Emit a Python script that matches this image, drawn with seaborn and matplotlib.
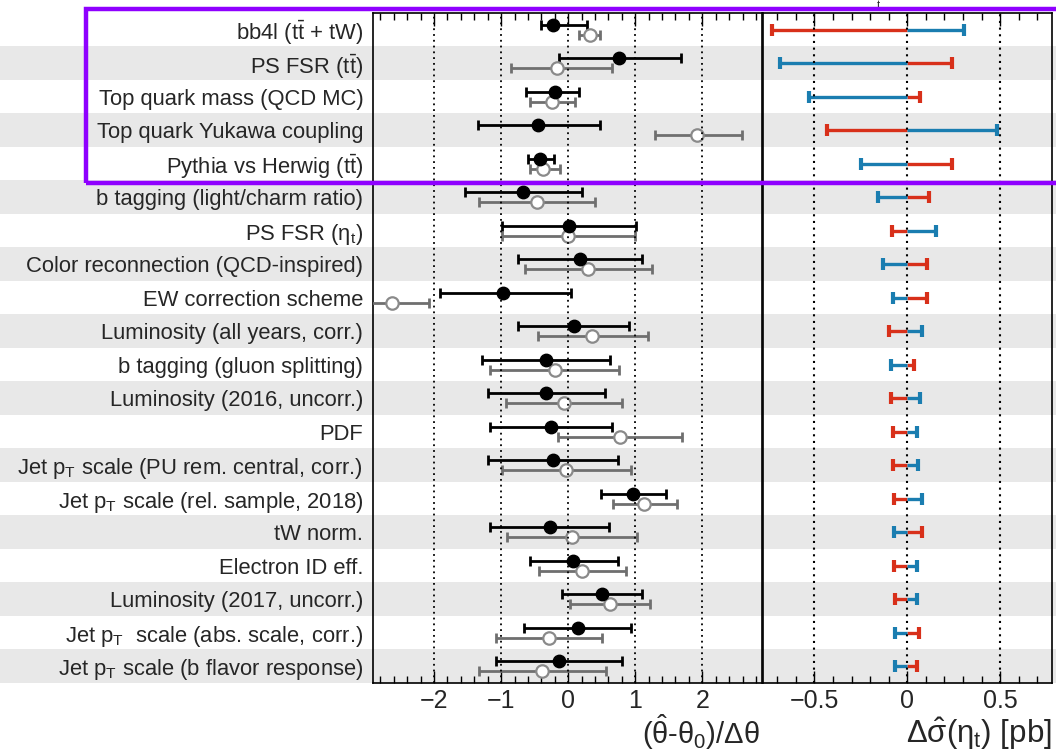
import numpy as np
import matplotlib
matplotlib.use('Agg')
import matplotlib.pyplot as plt
import seaborn as sns
import pandas as pd
from matplotlib.patches import Rectangle

# ---------------- data ----------------
labels = [
    r'bb4l ($\mathrm{t\bar{t}}$ + tW)',
    r'PS FSR ($\mathrm{t\bar{t}}$)',
    'Top quark mass (QCD MC)',
    'Top quark Yukawa coupling',
    r'Pythia vs Herwig ($\mathrm{t\bar{t}}$)',
    'b tagging (light/charm ratio)',
    r'PS FSR ($\eta_\mathrm{t}$)',
    'Color reconnection (QCD-inspired)',
    'EW correction scheme',
    'Luminosity (all years, corr.)',
    'b tagging (gluon splitting)',
    'Luminosity (2016, uncorr.)',
    'PDF',
    r'Jet $\mathrm{p_T}$ scale (PU rem. central, corr.)',
    r'Jet $\mathrm{p_T}$ scale (rel. sample, 2018)',
    'tW norm.',
    'Electron ID eff.',
    'Luminosity (2017, uncorr.)',
    r'Jet $\mathrm{p_T}$  scale (abs. scale, corr.)',
    r'Jet $\mathrm{p_T}$ scale (b flavor response)',
]

# observed pulls (black, filled)
obs_val = [-0.23, 0.76, -0.20, -0.45, -0.42, -0.68, 0.015, 0.17, -0.97, 0.08,
           -0.33, -0.33, -0.25, -0.23, 0.97, -0.27, 0.075, 0.50, 0.14, -0.13]
obs_lo = [-0.40, -0.13, -0.63, -1.35, -0.60, -1.54, -0.98, -0.75, -1.91, -0.75,
          -1.29, -1.20, -1.17, -1.20, 0.49, -1.16, -0.57, -0.095, -0.66, -1.08]
obs_hi = [0.28, 1.68, 0.16, 0.47, -0.21, 0.20, 1.01, 1.10, 0.035, 0.91,
          0.63, 0.55, 0.66, 0.75, 1.46, 0.61, 0.74, 1.10, 0.93, 0.81]

# expected / alternative pulls (grey, open)
exp_val = [0.32, -0.16, -0.24, 1.92, -0.38, -0.47, 0.0, 0.30, -2.63, 0.36,
           -0.20, -0.06, 0.77, -0.03, 1.13, 0.055, 0.21, 0.62, -0.29, -0.39]
exp_lo = [0.16, -0.855, -0.57, 1.29, -0.57, -1.33, -0.99, -0.65, -3.19, -0.45,
          -1.16, -0.93, -0.15, -0.99, 0.67, -0.915, -0.44, 0.03, -1.08, -1.33]
exp_hi = [0.48, 0.66, 0.10, 2.59, -0.12, 0.40, 1.00, 1.25, -2.07, 1.19,
          0.76, 0.81, 1.70, 0.93, 1.62, 1.02, 0.86, 1.22, 0.51, 0.56]

# impacts on the cross section [pb]
impact_red = [-0.73, 0.24, 0.068, -0.43, 0.242, 0.115, -0.084, 0.108, 0.104, -0.097,
              0.034, -0.088, -0.079, -0.077, -0.074, 0.077, -0.070, -0.068, 0.065, 0.052]
impact_blue = [0.307, -0.687, -0.53, 0.485, -0.248, -0.156, 0.155, -0.131, -0.079, 0.081,
               -0.088, 0.068, 0.054, 0.059, 0.081, -0.074, 0.054, 0.050, -0.068, -0.065]

pull_ticks = [-2, -1, 0, 1, 2]
impact_ticks = [-0.5, 0, 0.5]
pull_ticklabels = ['\u22122', '\u22121', '0', '1', '2']
impact_ticklabels = ['\u22120.5', '0', '0.5']

# ---------------- style ----------------
sns.set_theme(style='ticks')
plt.rcParams['font.family'] = ['Liberation Sans', 'DejaVu Sans']
plt.rcParams['mathtext.fontset'] = 'custom'
plt.rcParams['mathtext.rm'] = 'Liberation Sans'
plt.rcParams['mathtext.it'] = 'Liberation Sans'
plt.rcParams['mathtext.sf'] = 'Liberation Sans'
plt.rcParams['mathtext.bf'] = 'Liberation Sans:bold'

RED = '#d8301a'
BLUE = '#1a7db0'
GREY = '#6f6f6f'
BAND = '#e8e8e8'
PURPLE = '#8f00ff'

W, H = 1056, 753
fig = plt.figure(figsize=(W / 100, H / 100), dpi=100)

top_px, bot_px = 13, 683
yb = 1 - bot_px / H
hh = (bot_px - top_px) / H
n = len(labels)
rows = np.arange(n)

# background bands across the full width
bg = fig.add_axes([0, yb, 1, hh], zorder=-1)
bg.set_xlim(0, 1)
bg.set_ylim(n - 0.5, -0.5)
for i in range(1, n, 2):
    bg.axhspan(i - 0.5, i + 0.5, color=BAND, lw=0)
bg.axis('off')

axL = fig.add_axes([373 / W, yb, (762 - 373) / W, hh])
axR = fig.add_axes([763 / W, yb, (1052 - 763) / W, hh])
for ax in (axL, axR):
    ax.set_facecolor('none')
    for s in ax.spines.values():
        s.set_linewidth(1.2)
        s.set_color('black')

# ---- left: pulls ----
obs_val = np.array(obs_val); exp_val = np.array(exp_val)
axL.errorbar(exp_val, rows + 0.15,
             xerr=[exp_val - np.array(exp_lo), np.array(exp_hi) - exp_val],
             fmt='none', ecolor=GREY, elinewidth=2.0, capsize=3.5, capthick=2.0, zorder=3)
axL.errorbar(obs_val, rows - 0.15,
             xerr=[obs_val - np.array(obs_lo), np.array(obs_hi) - obs_val],
             fmt='none', ecolor='black', elinewidth=2.0, capsize=3.5, capthick=2.0, zorder=3)
df_exp = pd.DataFrame({'pull': exp_val, 'row': rows + 0.15})
df_obs = pd.DataFrame({'pull': obs_val, 'row': rows - 0.15})
sns.scatterplot(data=df_exp, x='pull', y='row', ax=axL, s=80, color='white',
                edgecolor='#8a8a8a', linewidth=1.6, zorder=4)
sns.scatterplot(data=df_obs, x='pull', y='row', ax=axL, s=80, color='black',
                edgecolor='black', linewidth=1.0, zorder=4)
for t in pull_ticks:
    axL.axvline(t, color='black', ls=(0, (1, 2.2)), lw=1.3, zorder=6)
axL.set_xlim(-2.91, 2.89)
axL.set_ylim(n - 0.5, -0.5)
axL.set_yticks(rows)
axL.set_yticklabels(labels)
axL.set_xticks(pull_ticks)
axL.set_xticklabels(pull_ticklabels)
axL.set_xticks(np.arange(-2.8, 2.81, 0.2), minor=True)
axL.set_xlabel(''); axL.set_ylabel('')

# ---- right: impacts ----
axR.hlines(rows, 0, impact_red, colors=RED, lw=2.4, zorder=3)
axR.hlines(rows, 0, impact_blue, colors=BLUE, lw=2.4, zorder=3)
axR.plot(impact_red, rows, ls='none', marker='|', ms=8, mew=3, color=RED, zorder=3)
axR.plot(impact_blue, rows, ls='none', marker='|', ms=8, mew=3, color=BLUE, zorder=3)
for t in impact_ticks:
    axR.axvline(t, color='black', ls=(0, (1, 2.2)), lw=1.5, zorder=6)
axR.set_xlim(-0.777, 0.779)
axR.set_ylim(n - 0.5, -0.5)
axR.set_yticks([])
axR.set_xticks(impact_ticks)
axR.set_xticklabels(impact_ticklabels)
axR.set_xticks(np.arange(-0.7, 0.71, 0.1), minor=True)

for ax in (axL, axR):
    ax.tick_params(axis='x', which='both', direction='in', top=True, bottom=True,
                   labelsize=18, pad=4, width=1.0, color='black')
    ax.tick_params(axis='x', which='major', length=9)
    ax.tick_params(axis='x', which='minor', length=5)
axL.tick_params(axis='y', length=0, pad=7, labelsize=15.8)

# axis titles (right-aligned, ROOT style)
fig.text(760 / W, 1 / H, r'$(\hat{\theta}$-$\theta_0)/\Delta\theta$',
         ha='right', va='bottom', fontsize=21)
fig.text(1052 / W, 1 / H, r'$\Delta\hat{\sigma}(\eta_\mathrm{t})$ [pb]',
         ha='right', va='bottom', fontsize=22.5)

# small fragment of text at the very top
fig.text(878 / W, 1 - 0.5 / H, 't', ha='center', va='top', fontsize=8)

# purple highlight box
fig.add_artist(Rectangle((86 / W, 1 - 183 / H), (1070 - 86) / W, (183 - 9) / H,
                         transform=fig.transFigure, fill=False, ec=PURPLE, lw=3.2,
                         zorder=20, clip_on=False))

fig.savefig('out.png', dpi=100)
